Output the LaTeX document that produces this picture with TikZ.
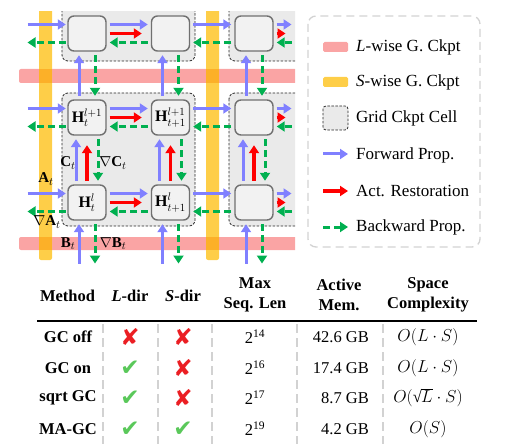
\documentclass[tikz,border=0pt]{standalone}
\usepackage{fontspec}
\setmainfont{Liberation Serif}
\newfontfamily\symfont{DejaVu Sans}
\usetikzlibrary{arrows.meta}
\definecolor{pinkbar}{RGB}{250,164,164}
\definecolor{orangebar}{RGB}{254,206,72}
\definecolor{inters}{RGB}{252,176,40}
\definecolor{cellfill}{RGB}{234,234,234}
\definecolor{nodefill}{RGB}{242,242,242}
\definecolor{nodedraw}{RGB}{112,112,112}
\definecolor{fwdblue}{RGB}{128,128,255}
\definecolor{resred}{RGB}{255,0,0}
\definecolor{bwdgreen}{RGB}{0,176,80}
\definecolor{xred}{RGB}{235,30,35}
\definecolor{okgreen}{RGB}{90,200,90}
\begin{document}
\begin{tikzpicture}[x=1pt,y=-1pt,
  every node/.style={inner sep=0pt},
  cellnode/.style={draw=nodedraw, fill=nodefill, line width=1.4pt, rounded corners=6pt,
    minimum width=38pt, minimum height=35pt, font=\fontsize{16}{17}\selectfont},
  cellbox/.style={draw=black!85, fill=cellfill, dash pattern=on 2.5pt off 1.5pt,
    line width=0.8pt, rounded corners=6pt},
  fwd/.style={draw=fwdblue, line width=3pt, shorten <=1.5pt, shorten >=1.5pt,
    -{Triangle[length=8pt,width=10pt]}},
  res/.style={draw=resred, line width=3.5pt, shorten <=1.5pt, shorten >=1.5pt,
    -{Triangle[length=8pt,width=10pt,sep=6pt]}},
  bwd/.style={draw=bwdgreen, line width=3pt, dash pattern=on 7pt off 4pt,
    shorten <=1.5pt, shorten >=1.5pt, -{Triangle[length=8pt,width=10pt]}},
  lab/.style={font=\fontsize{15}{16}\selectfont},
  legtext/.style={anchor=west, font=\fontsize{17}{20}\selectfont},
  head/.style={font=\bfseries\fontsize{16.5}{20}\selectfont, align=center},
  cellt/.style={font=\fontsize{16.5}{20}\selectfont},
  cplx/.style={font=\fontsize{16.5}{18}\selectfont},
  meth/.style={font=\bfseries\fontsize{16.5}{20}\selectfont},
  xmark/.style={font=\symfont\fontsize{23}{24}\selectfont, text=xred},
  okmark/.style={font=\symfont\fontsize{23}{24}\selectfont, text=okgreen},
  sep/.style={draw=gray!35, line width=1.2pt, dash pattern=on 9pt off 5pt}
]
\useasboundingbox (0,0) rectangle (507,444);

% ---------------- grid diagram ----------------
\begin{scope}
\clip (0,12) rectangle (295,265);
\fill[pinkbar, rounded corners=2pt] (19,69) rectangle (320,83);
\fill[pinkbar, rounded corners=2pt] (19,237) rectangle (320,250);
\fill[orangebar, rounded corners=2pt] (39,0) rectangle (52,260);
\fill[orangebar, rounded corners=2pt] (206,0) rectangle (219,260);
\fill[inters] (39,69) rectangle (52,83);
\fill[inters] (206,69) rectangle (219,83);
\fill[inters] (39,237) rectangle (52,250);
\fill[inters] (206,237) rectangle (219,250);

\draw[cellbox] (62,-20) rectangle (195,61);
\draw[cellbox] (229,-20) rectangle (362,61);
\draw[cellbox] (62,93) rectangle (195,226);
\draw[cellbox] (229,93) rectangle (362,226);

\node[cellnode] (n01) at (87,33.5) {};
\node[cellnode] (n02) at (170.5,33.5) {};
\node[cellnode] (n03) at (254,33.5) {};
\node[cellnode] (n11) at (87,117.5) {$\textbf{H}_t^{l+1}$};
\node[cellnode] (n12) at (170.5,117.5) {$\textbf{H}_{t+1}^{l+1}$};
\node[cellnode] (n13) at (254,117.5) {};
\node[cellnode] (n21) at (87,202.5) {$\textbf{H}_t^{l}$};
\node[cellnode] (n22) at (170.5,202.5) {$\textbf{H}_{t+1}^{l}$};
\node[cellnode] (n23) at (254,202.5) {};

\foreach \rw/\yy in {0/33.5,1/117.5,2/202.5}{
  \coordinate (lf\rw) at (26,\yy-9);
  \coordinate (lb\rw) at (26,\yy+9);
  \coordinate (rf\rw) at (293,\yy-9);
  \coordinate (rr\rw) at (293,\yy);
  \coordinate (rb\rw) at (293,\yy+9);
  \draw[fwd] (lf\rw) -- ([yshift=9pt]n\rw1.west);
  \draw[bwd] ([yshift=-9pt]n\rw1.west) -- (lb\rw);
  \draw[fwd] ([yshift=9pt,xshift=1.5pt]n\rw1.east) -- ([yshift=9pt,xshift=-1.5pt]n\rw2.west);
  \draw[res] ([xshift=1.5pt]n\rw1.east) -- ([xshift=-1.5pt]n\rw2.west);
  \draw[bwd] ([yshift=-9pt,xshift=-1.5pt]n\rw2.west) -- ([yshift=-9pt,xshift=1.5pt]n\rw1.east);
  \draw[fwd] ([yshift=9pt,xshift=1.5pt]n\rw2.east) -- ([yshift=9pt,xshift=-1.5pt]n\rw3.west);
  \draw[bwd] ([yshift=-9pt,xshift=-1.5pt]n\rw3.west) -- ([yshift=-9pt,xshift=1.5pt]n\rw2.east);
  \draw[fwd] ([yshift=9pt,xshift=1.5pt]n\rw3.east) -- (rf\rw);
  \draw[res] ([xshift=1.5pt]n\rw3.east) -- (rr\rw);
  \draw[bwd] (rb\rw) -- ([yshift=-9pt,xshift=1.5pt]n\rw3.east);
}
\foreach \cl/\xx in {1/87,2/170.5,3/254}{
  \draw[fwd] ([xshift=-8pt,yshift=2pt]n1\cl.north) -- ([xshift=-8pt,yshift=-2pt]n0\cl.south);
  \draw[bwd] ([xshift=8pt,yshift=-2pt]n0\cl.south) -- ([xshift=8pt,yshift=2pt]n1\cl.north);
  \draw[fwd] ([xshift=-11pt,yshift=2pt]n2\cl.north) -- ([xshift=-11pt,yshift=-2pt]n1\cl.south);
  \draw[res] ([yshift=2pt]n2\cl.north) -- ([yshift=-2pt]n1\cl.south);
  \draw[bwd] ([xshift=11pt,yshift=-2pt]n1\cl.south) -- ([xshift=11pt,yshift=2pt]n2\cl.north);
  \coordinate (bf\cl) at (\xx-8,265);
  \coordinate (bb\cl) at (\xx+8,265);
  \draw[fwd] (bf\cl) -- ([xshift=-8pt,yshift=-2pt]n2\cl.south);
  \draw[bwd] ([xshift=8pt,yshift=-2pt]n2\cl.south) -- (bb\cl);
}

\node[lab] (Ct) at (68,163) {$\textbf{C}_t$};
\node[lab] (dCt) at (113,163) {$\nabla\textbf{C}_t$};
\node[lab] (At) at (46,179) {$\textbf{A}_t$};
\node[lab] (dAt) at (47,222) {$\nabla\textbf{A}_t$};
\node[lab] (Bt) at (68,244) {$\textbf{B}_t$};
\node[lab] (dBt) at (113,244) {$\nabla\textbf{B}_t$};
\end{scope}

% ---------------- legend ----------------
\draw[draw=gray!35, line width=1.3pt, dash pattern=on 8pt off 5pt, rounded corners=8pt]
  (308,16) rectangle (480,247);
\fill[pinkbar, rounded corners=1.5pt] (323,42) rectangle (348,52);
\fill[orangebar, rounded corners=1.5pt] (323,77) rectangle (348,87);
\draw[cellbox, rounded corners=3pt] (323,106) rectangle (348,130);
\coordinate (lgfa) at (323,154); \coordinate (lgfb) at (348,154);
\coordinate (lgra) at (323,191); \coordinate (lgrb) at (348,191);
\coordinate (lgba) at (323,227); \coordinate (lgbb) at (348,227);
\draw[fwd, shorten <=0pt, shorten >=0pt] (lgfa) -- (lgfb);
\draw[draw=resred, line width=3.5pt, -{Triangle[length=8pt,width=10pt]}] (lgra) -- (lgrb);
\draw[bwd, shorten <=0pt, shorten >=0pt] (lgba) -- (lgbb);
\node[legtext] (lg1) at (356,47) {\textit{L}-wise G. Ckpt};
\node[legtext] (lg2) at (356,82) {\textit{S}-wise G. Ckpt};
\node[legtext] (lg3) at (356,118) {Grid Ckpt Cell};
\node[legtext] (lg4) at (356,155) {Forward Prop.};
\node[legtext] (lg5) at (356,191) {Act. Restoration};
\node[legtext] (lg6) at (356,227) {Backward Prop.};

% ---------------- table ----------------
\node[head] (h1) at (67.5,296) {Method};
\node[head] (h2) at (130,296) {\textit{L}-dir};
\node[head] (h3) at (183,296) {\textit{S}-dir};
\node[head] (h4) at (255,295) {Max\\Seq. Len};
\node[head] (h5) at (339,295) {Active\\Mem.};
\node[head] (h6) at (428,295) {Space\\Complexity};
\coordinate (rl) at (37,321); \coordinate (rr) at (477,321);
\draw[line width=1.6pt] (rl) -- (rr);
\foreach \xx in {103,158,212,297,383}{
  \draw[sep] (\xx,324) -- (\xx,444);
}
\node[meth] (m1) at (68,337) {GC off};
\node[meth] (m2) at (68,368) {GC on};
\node[meth] (m3) at (68,398) {sqrt GC};
\node[meth] (m4) at (68,429) {MA-GC};
\node[xmark] (a1) at (130,337) {✘};
\node[xmark] (b1) at (183,337) {✘};
\node[okmark] (a2) at (130,368) {✔};
\node[xmark] (b2) at (183,368) {✘};
\node[okmark] (a3) at (130,398) {✔};
\node[xmark] (b3) at (183,398) {✘};
\node[okmark] (a4) at (130,429) {✔};
\node[okmark] (b4) at (183,429) {✔};
\node[cellt] (s1) at (255,337) {2\textsuperscript{14}};
\node[cellt] (s2) at (255,368) {2\textsuperscript{16}};
\node[cellt] (s3) at (255,398) {2\textsuperscript{17}};
\node[cellt] (s4) at (255,429) {2\textsuperscript{19}};
\node[cellt, anchor=east] (g1) at (369,337) {42.6 GB};
\node[cellt, anchor=east] (g2) at (369,368) {17.4 GB};
\node[cellt, anchor=east] (g3) at (369,398) {8.7 GB};
\node[cellt, anchor=east] (g4) at (369,429) {4.2 GB};
\node[cplx] (c1) at (428,337) {$O(L\cdot S)$};
\node[cplx] (c2) at (428,368) {$O(L\cdot S)$};
\node[cplx] (c3) at (428,398) {$O(\mbox{√}\kern-0.6pt\overline{L}\cdot S)$};
\node[cplx] (c4) at (428,429) {$O(S)$};
\end{tikzpicture}
\end{document}
